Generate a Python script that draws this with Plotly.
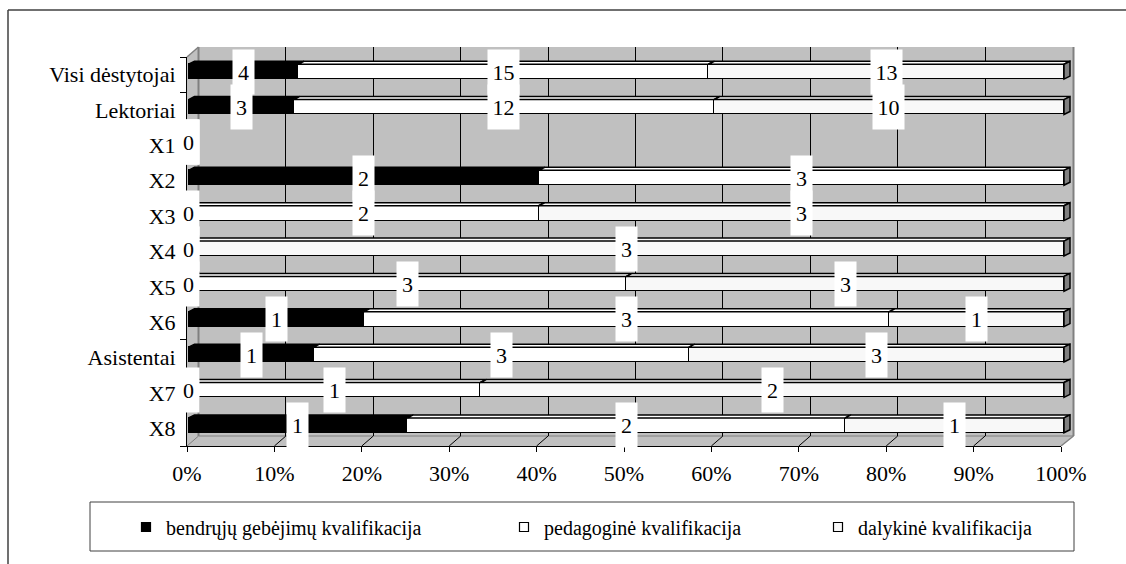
import plotly.graph_objects as go

# ---- data -------------------------------------------------------------
categories = ["Visi dėstytojai", "Lektoriai", "X1", "X2", "X3", "X4", "X5",
              "X6", "Asistentai", "X7", "X8"]
bendruju = [4, 3, 0, 2, 0, 0, 0, 1, 1, 0, 1]
pedagogine = [15, 12, 0, 3, 2, 0, 3, 3, 3, 1, 2]
dalykine = [13, 10, 0, 0, 3, 3, 3, 1, 3, 2, 1]
series_names = ["bendrųjų gebėjimų kvalifikacija",
                "pedagoginė kvalifikacija",
                "dalykinė kvalifikacija"]
x_tick_values = [0, 10, 20, 30, 40, 50, 60, 70, 80, 90, 100]
x_tick_labels = ["0%", "10%", "20%", "30%", "40%", "50%", "60%", "70%",
                 "80%", "90%", "100%"]

# ---- styling / geometry (pixels) ---------------------------------------
FONT = "Liberation Serif"
COLORS = ["#000000", "#FFFFFF", "#F8F8F8"]
WALL = "#C0C0C0"
EDGE = "#808080"
W, H = 1126, 564
PL, PR, PT, PB = 187, 1076, 46, 446          # plotting paper area
FRONT_X0, FRONT_X100, FRONT_TOP = 187, 1061, 57
BACK_X0, BACK_X100, BACK_TOP, BACK_BOTTOM = 198.5, 1072.5, 47, 436
BAR_X0, BAR_X100, BAR_LIFT = 188.5, 1064, 3
BAR_W = 0.42
BAR_DX, BAR_DY = 6, 3                          # depth of the 3-D bars
N = len(categories)
ROW_PX = (PB - FRONT_TOP) / N


def xp(px):
    return (px - PL) / (PR - PL)


def yp(py):
    return (PB - py) / (PB - PT)


def fx(v):
    return FRONT_X0 + v * (FRONT_X100 - FRONT_X0) / 100


series = [bendruju, pedagogine, dalykine]
totals = [sum(s[i] for s in series) for i in range(N)]
pct = [[(s[i] / totals[i] * 100 if totals[i] else 0) for i in range(N)]
       for s in series]
rows = list(range(N))

fig = go.Figure()

# invisible trace so the back-wall subplot exists
fig.add_trace(go.Scatter(x=[None], y=[None], xaxis="x", yaxis="y",
                         showlegend=False, hoverinfo="skip"))

# stacked bars (front faces)
for k in range(3):
    fig.add_trace(go.Bar(
        y=rows, x=pct[k], orientation="h", width=BAR_W,
        marker=dict(color=COLORS[k], line=dict(color="black", width=1.5)),
        xaxis="x2", yaxis="y2", showlegend=False, hoverinfo="skip"))

# legend entries
legend_ids = ["legend", "legend2", "legend3"]
for k in range(3):
    fig.add_trace(go.Scatter(
        x=[None], y=[None], mode="markers", name=series_names[k],
        marker=dict(symbol="square", size=9, color=COLORS[k],
                    line=dict(color="black", width=1.2)),
        xaxis="x3", yaxis="y3", legend=legend_ids[k], hoverinfo="skip"))

# ---- bar-axis scale ----------------------------------------------------
s_bar = (BAR_X100 - BAR_X0) / 100
x2_lo = -(BAR_X0 - PL) / s_bar
x2_hi = x2_lo + (PR - PL) / s_bar
c0 = FRONT_TOP - BAR_LIFT + ROW_PX / 2
y2_top = (PT - c0) / ROW_PX
y2_bot = (PB - c0) / ROW_PX
dxu = BAR_DX / s_bar
dyu = BAR_DY / ROW_PX

shapes = []
# walls and floor
wall_pts = [(FRONT_X0, FRONT_TOP), (BACK_X0, BACK_TOP), (BACK_X100 + 1, BACK_TOP),
            (BACK_X100 + 1, BACK_BOTTOM), (FRONT_X100, PB), (FRONT_X0, PB)]
path = "M " + " L ".join(f"{xp(a):.5f},{yp(b):.5f}" for a, b in wall_pts) + " Z"
shapes.append(dict(type="path", path=path, xref="paper", yref="paper",
                   fillcolor=WALL, line=dict(width=0), layer="below"))


def pline(x0, y0, x1, y1, color, width, layer="below"):
    return dict(type="line", xref="paper", yref="paper", x0=xp(x0), y0=yp(y0),
                x1=xp(x1), y1=yp(y1), line=dict(color=color, width=width),
                layer=layer)


shapes.append(pline(BACK_X0, BACK_TOP, BACK_X0, BACK_BOTTOM, EDGE, 2))
shapes.append(pline(FRONT_X0, FRONT_TOP, BACK_X0, BACK_TOP, EDGE, 1.5))
shapes.append(pline(BACK_X0, BACK_BOTTOM, BACK_X100 + 1, BACK_BOTTOM, EDGE, 1))
shapes.append(pline(BACK_X100 + 1, BACK_TOP, BACK_X100 + 1, BACK_BOTTOM, EDGE, 2))
shapes.append(pline(FRONT_X100, PB, BACK_X100 + 1, BACK_BOTTOM, EDGE, 1.5))
# floor diagonals from each tick
for v in x_tick_values[:-1]:
    shapes.append(pline(fx(v), PB, fx(v) + (BACK_X0 - FRONT_X0),
                        BACK_BOTTOM, "black" if v else EDGE, 1))

# top faces and end caps of the bars
for i in rows:
    cum = 0
    yt, yb = i - BAR_W / 2, i + BAR_W / 2
    last = max((k for k in range(3) if pct[k][i] > 0), default=None)
    for k in range(3):
        w = pct[k][i]
        if w <= 0:
            continue
        x0, x1 = cum, cum + w
        shapes.append(dict(
            type="path", xref="x2", yref="y2",
            path=(f"M {x0},{yt} L {x1},{yt} L {x1 + dxu},{yt - dyu} "
                  f"L {x0 + dxu},{yt - dyu} Z"),
            fillcolor=COLORS[k], line=dict(color="black", width=1.5),
            layer="above"))
        if k == last:
            shapes.append(dict(
                type="path", xref="x2", yref="y2",
                path=(f"M {x1},{yt} L {x1 + dxu},{yt - dyu} "
                      f"L {x1 + dxu},{yb - dyu} L {x1},{yb} Z"),
                fillcolor=EDGE, line=dict(color="black", width=1.5),
                layer="above"))
        cum = x1

# legend frame and chart border
LEG_L, LEG_R, LEG_T, LEG_B = 90, 1074, 502, 551
shapes.append(dict(type="rect", xref="paper", yref="paper",
                   x0=xp(LEG_L), x1=xp(LEG_R), y0=yp(LEG_B), y1=yp(LEG_T),
                   line=dict(color="#404040", width=1), fillcolor="white",
                   layer="below"))
shapes.append(pline(8, 10, W + 5, 10, "#404040", 1.5, "above"))
shapes.append(pline(8, 10, 8, H + 5, "#404040", 1.5, "above"))

# value labels
annotations = []
for i in rows:
    cum = 0
    for k in range(3):
        v = series[k][i]
        w = pct[k][i]
        if v > 0 or cum == 0:
            text = str(v)
            annotations.append(dict(
                x=cum + w / 2, y=i, xref="x2", yref="y2", text=text,
                showarrow=False, bgcolor="white",
                width=21 if len(text) == 1 else 31, height=44,
                borderpad=0, font=dict(family=FONT, size=22, color="black")))
        cum += w

TEXT_X = [163, 541, 855]
legends = {}
for k, lid in enumerate(legend_ids):
    legends[lid] = dict(
        x=xp(TEXT_X[k] - 37), y=yp(527), xanchor="left", yanchor="middle",
        orientation="h", bgcolor="rgba(0,0,0,0)", borderwidth=0,
        font=dict(family=FONT, size=20, color="black"))

hidden = dict(showgrid=False, showticklabels=False, showline=False,
              zeroline=False, ticks="", fixedrange=True)

fig.update_layout(
    width=W, height=H, autosize=False,
    margin=dict(l=PL, r=W - PR, t=PT, b=H - PB, pad=0),
    paper_bgcolor="white", plot_bgcolor="rgba(0,0,0,0)",
    barmode="stack", bargap=0,
    font=dict(family=FONT, color="black"),
    xaxis=dict(domain=[xp(BACK_X0), xp(BACK_X100)], range=[0, 100],
               anchor="y", tickmode="array", tickvals=x_tick_values[1:-1],
               showgrid=True, gridcolor="black", gridwidth=1,
               showticklabels=False, showline=False, zeroline=False,
               ticks="", fixedrange=True),
    yaxis=dict(domain=[yp(BACK_BOTTOM), yp(BACK_TOP)], range=[0, 1],
               anchor="x", **hidden),
    xaxis2=dict(domain=[0, 1], range=[x2_lo, x2_hi], anchor="y2", **hidden),
    yaxis2=dict(domain=[0, 1], range=[y2_bot, y2_top], anchor="x2", **hidden),
    xaxis3=dict(domain=[0, xp(FRONT_X100)], range=[0, 100], anchor="y3",
                tickmode="array", tickvals=x_tick_values, ticktext=x_tick_labels,
                ticks="outside", ticklen=5, tickwidth=1, tickcolor="black",
                showline=True, linecolor="black", linewidth=1,
                showgrid=False, zeroline=False, fixedrange=True,
                tickfont=dict(family=FONT, size=22, color="black"),
                ticklabelstandoff=3),
    yaxis3=dict(domain=[0, yp(FRONT_TOP)], range=[N - 0.5, -0.5], anchor="x3",
                tickmode="array", tickvals=rows, ticktext=categories,
                ticks="outside", ticklen=6, tickcolor="rgba(0,0,0,0)",
                minor=dict(tickmode="array",
                           tickvals=[r - 0.5 for r in range(N + 1)],
                           ticks="outside", ticklen=6, tickwidth=1,
                           tickcolor="black", showgrid=False),
                showline=True, linecolor="black", linewidth=1,
                showgrid=False, zeroline=False, fixedrange=True,
                tickfont=dict(family=FONT, size=22, color="black")),
    shapes=shapes,
    annotations=annotations,
    **legends,
)

fig.write_html("out.html")
